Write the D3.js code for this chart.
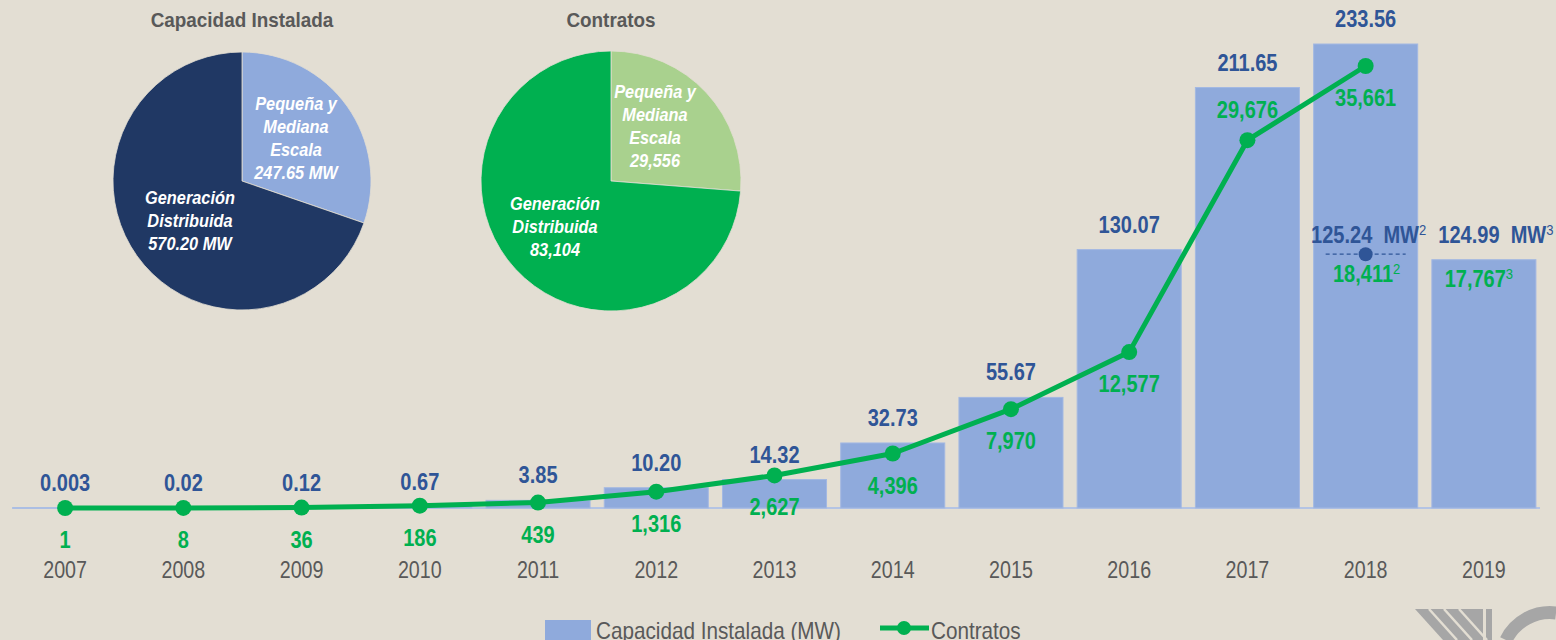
<!DOCTYPE html>
<html>
<head>
<meta charset="utf-8">
<script src="https://cdn.jsdelivr.net/npm/d3@7"></script>
<style>
  body { margin: 0; background: #e3ded3; }
  svg { display: block; font-family: "Liberation Sans", Arial, sans-serif; }
  text { white-space: pre; }
  .title { font-weight: bold; fill: #595959; font-size: 21px; }
  .capLbl { font-weight: bold; fill: #2f5597; font-size: 23px; }
  .conLbl { font-weight: bold; fill: #00b050; font-size: 23px; }
  .year { fill: #595959; font-size: 24px; }
  .pieTxt { font-weight: bold; font-style: italic; fill: #fff; font-size: 19px; }
  .legend { fill: #595959; font-size: 23px; }
</style>
</head>
<body>
<svg width="1556" height="640"></svg>
<script>
var years = ["2007","2008","2009","2010","2011","2012","2013","2014","2015","2016","2017","2018","2019"];
var capacidad = [0.003, 0.02, 0.12, 0.67, 3.85, 10.20, 14.32, 32.73, 55.67, 130.07, 211.65, 233.56, 124.99];
var capLabels = ["0.003","0.02","0.12","0.67","3.85","10.20","14.32","32.73","55.67","130.07","211.65","233.56"];
var contratos = [1, 8, 36, 186, 439, 1316, 2627, 4396, 7970, 12577, 29676, 35661];
var conLabels = ["1","8","36","186","439","1,316","2,627","4,396","7,970","12,577","29,676","35,661"];

// partial 2018 marker and 2019 values
var parcial2018 = {cap: 125.24, capTxt: "125.24", con: "18,411", nota: "2"};
var parcial2019 = {capTxt: "124.99", con: "17,767", nota: "3"};

var pieCapValues = [247.65, 570.20];
var pieCapText = [["Pequeña y","Mediana","Escala","247.65 MW"], ["Generación","Distribuida","570.20 MW"]];
var pieConValues = [29556, 83104];
var pieConText = [["Pequeña y","Mediana","Escala","29,556"], ["Generación","Distribuida","83,104"]];

var svg = d3.select("svg");
var base = 508;

var x = d3.scaleBand().domain(years).range([6, 1543]).paddingInner(0.12).paddingOuter(0.06);
var yBar = d3.scaleLinear().domain([0, 233.56]).range([base, 44]);
var yLine = d3.scaleLinear().domain([0, 35661]).range([base, 66]);
var cx = function(d) { return x(d) + x.bandwidth() / 2; };

// narrow look: squeeze text horizontally
function place(px, py, sx) {
  return "translate(" + px + "," + py + ") scale(" + sx + ",1)";
}

// baseline
svg.append("line")
  .attr("x1", 12).attr("x2", 1540)
  .attr("y1", base).attr("y2", base)
  .attr("stroke", "#b4c4e4").attr("stroke-width", 2);

// bars
svg.selectAll(".bar")
  .data(capacidad)
  .enter().append("rect")
  .attr("class", "bar")
  .attr("x", function(d, i) { return x(years[i]); })
  .attr("y", function(d) { return yBar(d); })
  .attr("width", x.bandwidth())
  .attr("height", function(d) { return base - yBar(d); })
  .attr("fill", "#8faadc")
  .attr("stroke", "#a3b8e2").attr("stroke-width", 1);

// capacity labels
svg.selectAll(".capLbl")
  .data(capLabels)
  .enter().append("text")
  .attr("class", "capLbl")
  .attr("text-anchor", "middle")
  .attr("transform", function(d, i) { return place(cx(years[i]), yBar(capacidad[i]) - 17, 0.87); })
  .text(function(d) { return d; });

// line
var line = d3.line()
  .x(function(d, i) { return cx(years[i]); })
  .y(function(d) { return yLine(d); });

svg.append("path")
  .datum(contratos)
  .attr("d", line)
  .attr("fill", "none")
  .attr("stroke", "#00b050")
  .attr("stroke-width", 5)
  .attr("stroke-linejoin", "round");

svg.selectAll(".dot")
  .data(contratos)
  .enter().append("circle")
  .attr("cx", function(d, i) { return cx(years[i]); })
  .attr("cy", function(d) { return yLine(d); })
  .attr("r", 8)
  .attr("fill", "#00b050");

svg.selectAll(".conLbl")
  .data(conLabels)
  .enter().append("text")
  .attr("class", "conLbl")
  .attr("text-anchor", "middle")
  .attr("transform", function(d, i) {
    var y = yLine(contratos[i]);
    return place(cx(years[i]), years[i] === "2017" ? y - 22 : y + 40, 0.87);
  })
  .text(function(d) { return d; });

// year axis labels
svg.selectAll(".year")
  .data(years)
  .enter().append("text")
  .attr("class", "year")
  .attr("text-anchor", "middle")
  .attr("transform", function(d) { return place(cx(d), 578, 0.82); })
  .text(function(d) { return d; });

// 2018 partial marker
var y18 = yBar(parcial2018.cap) - 5;
var c18 = cx("2018");
svg.append("line")
  .attr("x1", c18 - 40).attr("x2", c18 + 40)
  .attr("y1", y18).attr("y2", y18)
  .attr("stroke", "#2f5597").attr("stroke-width", 1.2)
  .attr("stroke-dasharray", "4,3");
svg.append("circle").attr("cx", c18).attr("cy", y18).attr("r", 7).attr("fill", "#2f5597");

function supLabel(cls, xPos, yPos, main, sup) {
  var t = svg.append("text").attr("class", cls).attr("text-anchor", "middle")
    .attr("transform", place(xPos, yPos, 0.87));
  t.append("tspan").text(main);
  t.append("tspan").attr("dy", -8).style("font-size", "15px").style("font-weight", "normal").text(sup);
}
supLabel("capLbl", c18 + 3, y18 - 11, parcial2018.capTxt + "  MW", parcial2018.nota);
supLabel("conLbl", c18 + 1, y18 + 28, parcial2018.con, parcial2018.nota);

var c19 = cx("2019");
var top19 = yBar(capacidad[12]);
supLabel("capLbl", c19 + 12, top19 - 17, parcial2019.capTxt + "  MW", parcial2019.nota);
supLabel("conLbl", c19 - 5, top19 + 27, parcial2019.con, parcial2019.nota);

// pies
function drawPie(cxp, cyp, r, values, colors, texts, textPos, title) {
  var pie = d3.pie().sort(null).value(function(d) { return d; });
  var arc = d3.arc().innerRadius(0).outerRadius(r);
  var g = svg.append("g").attr("transform", "translate(" + cxp + "," + cyp + ")");
  g.selectAll("path")
    .data(pie(values))
    .enter().append("path")
    .attr("d", arc)
    .attr("fill", function(d, i) { return colors[i]; })
    .attr("stroke", "#e3ded3").attr("stroke-width", 0.8);
  texts.forEach(function(lines, k) {
    lines.forEach(function(s, j) {
      g.append("text").attr("class", "pieTxt").attr("text-anchor", "middle")
        .attr("transform", place(textPos[k][0], textPos[k][1] + j * 23, 0.86))
        .text(s);
    });
  });
  svg.append("text").attr("class", "title").attr("text-anchor", "middle")
    .attr("transform", place(cxp, 27, 0.9)).text(title);
}
drawPie(242, 181, 129, pieCapValues, ["#8faadc", "#203864"], pieCapText,
  [[54, -71], [-52, 23]], "Capacidad Instalada");
drawPie(611, 181, 130, pieConValues, ["#a9d18e", "#00b050"], pieConText,
  [[44, -83], [-56, 29]], "Contratos");

// legend
var lg = svg.append("g");
lg.append("rect").attr("x", 545).attr("y", 620).attr("width", 46).attr("height", 20).attr("fill", "#8faadc");
lg.append("text").attr("class", "legend").attr("transform", place(596, 639, 0.9)).text("Capacidad Instalada (MW)");
lg.append("line").attr("x1", 880).attr("x2", 929).attr("y1", 628).attr("y2", 628)
  .attr("stroke", "#00b050").attr("stroke-width", 5);
lg.append("circle").attr("cx", 904).attr("cy", 628).attr("r", 7).attr("fill", "#00b050");
lg.append("text").attr("class", "legend").attr("transform", place(931, 639, 0.9)).text("Contratos");

// logo fragment bottom right
var logo = svg.append("g").attr("fill", "#a6a6a6");
logo.append("path").attr("d", "M1415,609 L1483,609 L1483,640 L1443,640 Z");
logo.append("rect").attr("x", 1486).attr("y", 609).attr("width", 6).attr("height", 31);
logo.append("path").attr("d", "M1506,640 A49,49 0 0 1 1556,613")
  .attr("fill", "none").attr("stroke", "#a6a6a6").attr("stroke-width", 13);
var stripes = svg.append("g").attr("stroke", "#e3ded3").attr("stroke-width", 2.5);
[0, 1, 2].forEach(function(k) {
  stripes.append("line").attr("x1", 1429 + k * 15).attr("y1", 609)
    .attr("x2", 1457 + k * 15).attr("y2", 640);
});
</script>
</body>
</html>
